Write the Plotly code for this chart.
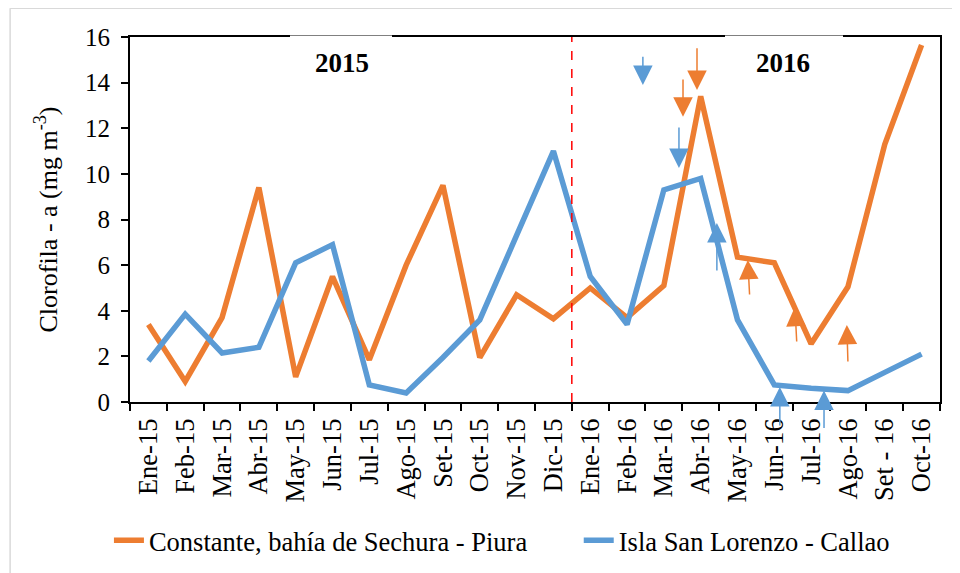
import plotly.graph_objects as go

months = ["Ene-15", "Feb-15", "Mar-15", "Abr-15", "May-15", "Jun-15", "Jul-15", "Ago-15",
          "Set-15", "Oct-15", "Nov-15", "Dic-15", "Ene-16", "Feb-16", "Mar-16", "Abr-16",
          "May-16", "Jun-16", "Jul-16", "Ago-16", "Set - 16", "Oct-16"]
sechura = [3.4, 0.9, 3.7, 9.4, 1.1, 5.5, 1.85, 6.0, 9.5, 1.95, 4.7, 3.65,
           5.0, 3.7, 5.1, 13.4, 6.35, 6.1, 2.55, 5.05, 11.3, 15.65]
san_lorenzo = [1.8, 3.85, 2.15, 2.4, 6.1, 6.9, 0.75, 0.4, 1.95, 3.6, 7.3, 11.0,
               5.5, 3.4, 9.3, 9.8, 3.6, 0.75, 0.6, 0.5, 1.3, 2.1]

ORANGE = "#ED7D31"
BLUE = "#5B9BD5"
FONT = "Liberation Serif, Times New Roman, serif"

# arrows: (x index tip, y tip, x index tail, y tail, color)
arrows_x = [13.43, 14.9, 14.52, 14.41, 15.44, 16.28, 17.56, 18.97, 17.15, 18.35]
arrows_y = [13.9, 13.68, 12.5, 10.26, 7.85, 6.23, 4.17, 3.38, 0.66, 0.5]
arrows_ax = [13.43, 14.9, 14.52, 14.41, 15.44, 16.33, 17.61, 19.0, 17.15, 18.35]
arrows_ay = [15.2, 15.57, 14.2, 12.1, 5.7, 4.65, 2.59, 1.71, -1.1, -1.2]
arrows_c = [BLUE, ORANGE, ORANGE, BLUE, BLUE, ORANGE, ORANGE, ORANGE, BLUE, BLUE]

fig = go.Figure()
fig.add_trace(go.Scatter(x=months, y=sechura, mode="lines", name="Constante, bahía de Sechura - Piura",
                         line=dict(color=ORANGE, width=5.5), legend="legend"))
fig.add_trace(go.Scatter(x=months, y=san_lorenzo, mode="lines", name="Isla San Lorenzo - Callao",
                         line=dict(color=BLUE, width=5.5), legend="legend2"))

annotations = []
for x, y, ax, ay, c in zip(arrows_x, arrows_y, arrows_ax, arrows_ay, arrows_c):
    annotations.append(dict(x=x, y=y, ax=ax, ay=ay, xref="x", yref="y", axref="x", ayref="y",
                            text="", showarrow=True, arrowhead=2, arrowsize=2.6, arrowwidth=1.5,
                            arrowcolor=c))

annotations.append(dict(x=5.26, y=14.87, xref="x", yref="y", text="<b>2015</b>", showarrow=False,
                        font=dict(family=FONT, size=27, color="black")))
annotations.append(dict(x=17.23, y=14.87, xref="x", yref="y", text="<b>2016</b>", showarrow=False,
                        font=dict(family=FONT, size=27, color="black")))
fig.update_layout(annotations=annotations)

fig.add_shape(type="line", x0=11.5, x1=11.5, y0=0, y1=16, xref="x", yref="y",
              line=dict(color="red", width=1.5, dash="dash"))
# frame around chart area
fig.add_shape(type="line", xref="paper", yref="paper", x0=-0.148, x1=1.03, y0=1.079, y1=1.079,
              line=dict(color="#d9d9d9", width=1.5))
fig.add_shape(type="line", xref="paper", yref="paper", x0=-0.148, x1=-0.148, y0=1.079, y1=-0.5,
              line=dict(color="#d9d9d9", width=1.5))
# white gaps in the top border behind year labels
fig.add_shape(type="line", xref="paper", yref="paper", x0=(290-130)/810, x1=(392-130)/810, y0=1, y1=1,
              line=dict(color="white", width=3), layer="above")
fig.add_shape(type="line", xref="paper", yref="paper", x0=(725-130)/810, x1=(843-130)/810, y0=1, y1=1,
              line=dict(color="white", width=3), layer="above")

leg_common = dict(orientation="h", xanchor="left", y=-0.314, yanchor="top",
                  font=dict(family=FONT, size=26.5), itemwidth=30, bgcolor="rgba(0,0,0,0)")

fig.update_layout(
    width=952, height=565,
    margin=dict(l=122, r=20, t=29, b=171, autoexpand=False),
    paper_bgcolor="white", plot_bgcolor="white",
    font=dict(family=FONT, size=26, color="black"),
    showlegend=True,
    legend=dict(x=-0.026, **leg_common),
    legend2=dict(x=0.554, **leg_common),
    xaxis=dict(type="category", tickson="boundaries", ticks="outside", ticklen=7, tickwidth=2,
               tickcolor="black", showline=True, linecolor="black", linewidth=2, mirror=True,
               showgrid=False, tickangle=-90, tickfont=dict(family=FONT, size=26.5),
               ticklabelstandoff=4, range=[-0.5, 21.5], automargin=False),
    yaxis=dict(range=[0, 16], dtick=2, ticks="outside", ticklen=7, tickwidth=2, tickcolor="black",
               showline=True, linecolor="black", linewidth=2, mirror=True, showgrid=False,
               zeroline=False, tickfont=dict(family=FONT, size=25), automargin=False,
               ticklabelstandoff=6,
               title=dict(text="Clorofila - a (mg m<sup>-3</sup>)", font=dict(family=FONT, size=26),
                          standoff=20)),
)

fig.write_html("out.html")
